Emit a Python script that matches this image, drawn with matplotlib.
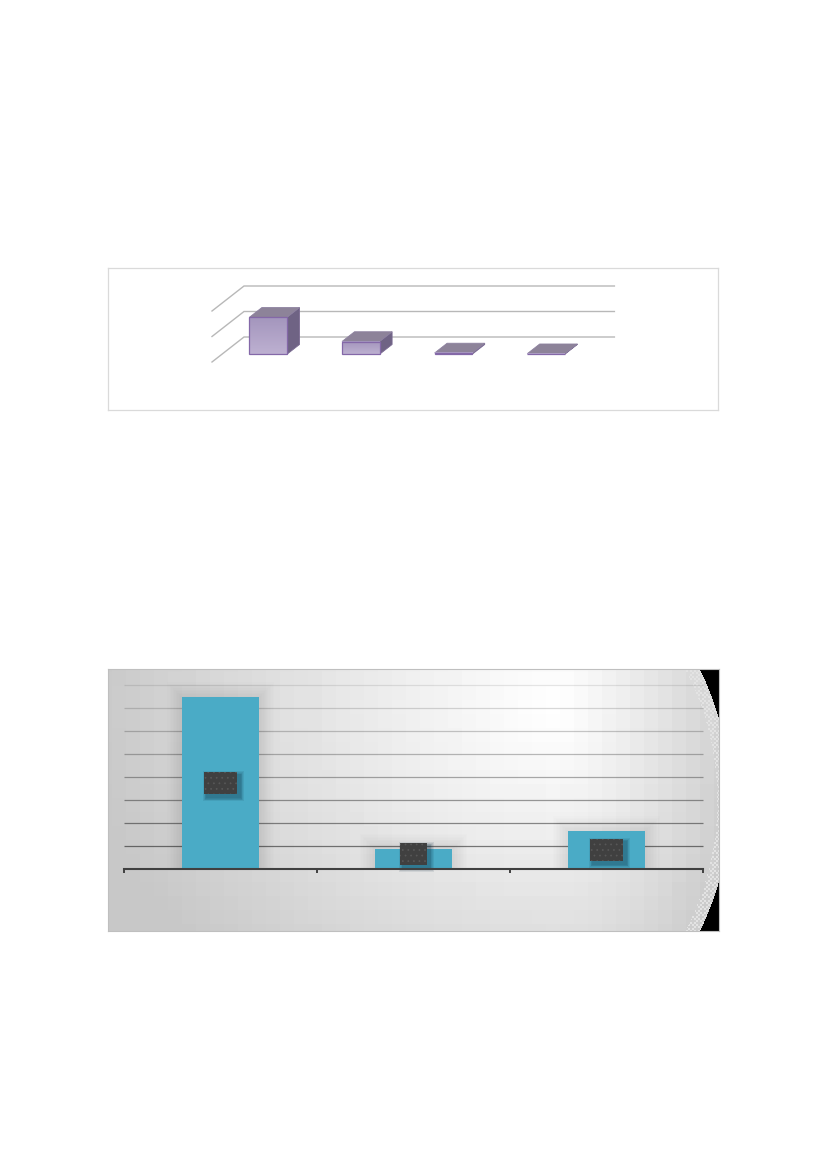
import numpy as np
import matplotlib
matplotlib.use("Agg")
import matplotlib.pyplot as plt
from matplotlib.patches import Polygon, Rectangle
from matplotlib.colors import LinearSegmentedColormap

plt.rcParams["hatch.linewidth"] = 0.5

# ---- data ----
top_categories = [0, 1, 2, 3]
top_values = [1.45, 0.50, 0.05, 0.02]
top_grid = [0, 1, 2]

bottom_categories = [0, 1, 2]
bottom_values = [7.46, 0.87, 1.65]
bottom_grid = [1, 2, 3, 4, 5, 6, 7, 8]
bottom_label_y = [3.73, 0.65, 0.83]
bottom_label_w = [0.171, 0.137, 0.171]

W, H = 827, 1169
fig = plt.figure(figsize=(W / 100, H / 100), dpi=100, facecolor="white")


def axes_px(l, t, r, b):
    return fig.add_axes([l / W, 1 - b / H, (r - l) / W, (b - t) / H])


# ---- top chart: pseudo 3D columns ----
L, T, R, B = 108.2, 268.2, 718.2, 410.2
ux, uy = 92.6, 25.5
ax = axes_px(L, T, R, B)
ax.set_xticks([]); ax.set_yticks([])
for s in ax.spines.values():
    s.set_color("#DADADA"); s.set_linewidth(0.9)

dx, dy = 32 / ux, 25 / uy            # full floor depth, in data units
for g in top_grid:
    ax.plot([-0.5, -0.5 + dx, 3.5 + dx], [g, g + dy, g + dy],
            color="#B8B8B8", lw=1.0, solid_joinstyle="miter", zorder=1)

d0, d1 = 0.31, 0.70
hw = 0.203
grad = LinearSegmentedColormap.from_list("f", ["#BDB0D1", "#A496BD"])
for c, v in zip(top_categories, top_values):
    x0, x1 = c - hw + d0 * dx, c + hw + d0 * dx
    y0, y1 = d0 * dy, d0 * dy + v
    ox, oy = (d1 - d0) * dx, (d1 - d0) * dy
    ax.add_patch(Polygon([(x1, y0), (x1 + ox, y0 + oy), (x1 + ox, y1 + oy), (x1, y1)],
                         fc="#6F6384", ec="#7A6A92", lw=0.6, zorder=3))
    ax.add_patch(Polygon([(x0, y1), (x0 + ox, y1 + oy), (x1 + ox, y1 + oy), (x1, y1)],
                         fc="#8D8399", ec="#8D81A0", lw=0.6, zorder=3))
    ax.imshow(np.linspace(0, 1, 32)[:, None], extent=(x0, x1, y1, y0), origin="upper",
              cmap=grad, aspect="auto", zorder=4)
    ax.add_patch(Rectangle((x0, y0), x1 - x0, v, fc="none", ec="#8468A8", lw=0.9, zorder=5))
ax.set_xlim((L - 212) / ux - 0.5, (R - 212) / ux - 0.5)
ax.set_ylim((362 - B) / uy, (362 - T) / uy)

# ---- bottom chart ----
L, T, R, B = 108.2, 669.2, 718.5, 931.2
ux, uy = 193.0, 23.0
ax = axes_px(L, T, R, B)
xlim = ((L - 220.5) / ux, (R - 220.5) / ux)
ylim = ((869 - B) / uy, (869 - T) / uy)

# background radial gradient with the dithered black corners at the right
px, py = np.meshgrid(np.arange(L, R, 1.0), np.arange(T, B, 1.0))
bx = np.floor(px / 14) * 14               # blocky look of the source
by = np.floor(py / 14) * 14
cx, cy = 550.0, 700.0
sx = np.where(bx < cx, 440.0, 185.0)
t = np.hypot((bx - cx) / sx, (by - cy) / 350.0)
gray = 255 - np.clip(t, 0, 1.05) ** 1.1 * 52
rr = np.hypot(px - 433.0, py - 800.0)
ipx, ipy = px.astype(int) // 2, py.astype(int) // 2
check = ((ipx + ipy) % 2 == 0) & ((ipx + 2 * ipy) % 5 != 1)
band = (rr > 284) & (rr <= 297) & (px > 600)
gray = np.where(band & check, 228, gray)
gray = np.where((rr > 297) & (px > 600), 0, gray)
ax.imshow(gray, extent=(xlim[0], xlim[1], ylim[0], ylim[1]), origin="upper",
          cmap="gray", vmin=0, vmax=255, aspect="auto", interpolation="nearest", zorder=0)

for i, g in enumerate(bottom_grid):
    ax.plot([-0.5, 2.5], [g, g], color="black", alpha=0.50 - 0.058 * i, lw=0.9,
            solid_capstyle="butt", zorder=1)

bar_w = 0.4
for c, v in zip(bottom_categories, bottom_values):
    # soft shadow
    for k in range(10, 0, -1):
        ex, ey = k * 1.5 / ux, k * 1.5 / uy
        ax.add_patch(Rectangle((c - bar_w / 2 - ex, 0), bar_w + 2 * ex, v + ey,
                               fc="black", ec="none", alpha=0.006, zorder=2))
    ax.bar(c, v, width=bar_w, color="#4AABC6", edgecolor="none", zorder=3)

for c, yc, w in zip(bottom_categories, bottom_label_y, bottom_label_w):
    h = 22 / uy
    for k in range(5, 0, -1):
        ex, ey = k * 0.8 / ux, k * 0.8 / uy
        ax.add_patch(Rectangle((c - w / 2 + 3 / ux - ex, yc - h / 2 - 3 / uy - ey),
                               w + 2 * ex, h + 2 * ey, fc="#0A2A40", ec="none",
                               alpha=0.09, zorder=4))
    ax.add_patch(Rectangle((c - w / 2, yc - h / 2), w, h, fc="#404040", ec="none", zorder=5))
    ax.add_patch(Rectangle((c - w / 2, yc - h / 2), w, h, fc="none", ec="#585858", lw=0,
                           hatch="...", zorder=6))

ax.plot([-0.5, 2.5], [0, 0], color="#404040", lw=1.5, solid_capstyle="projecting", zorder=7)
ax.set_xticks([])
ax.set_yticks([])
for xt in [-0.5, 0.5, 1.5, 2.5]:
    ax.plot([xt, xt], [0, -4 / uy], color="#404040", lw=1.4, solid_capstyle="butt", zorder=7)
ax.set_xlim(xlim); ax.set_ylim(ylim)
for s in ax.spines.values():
    s.set_color("#BFBFBF"); s.set_linewidth(0.8)

fig.savefig("out.png", dpi=100, facecolor="white")
